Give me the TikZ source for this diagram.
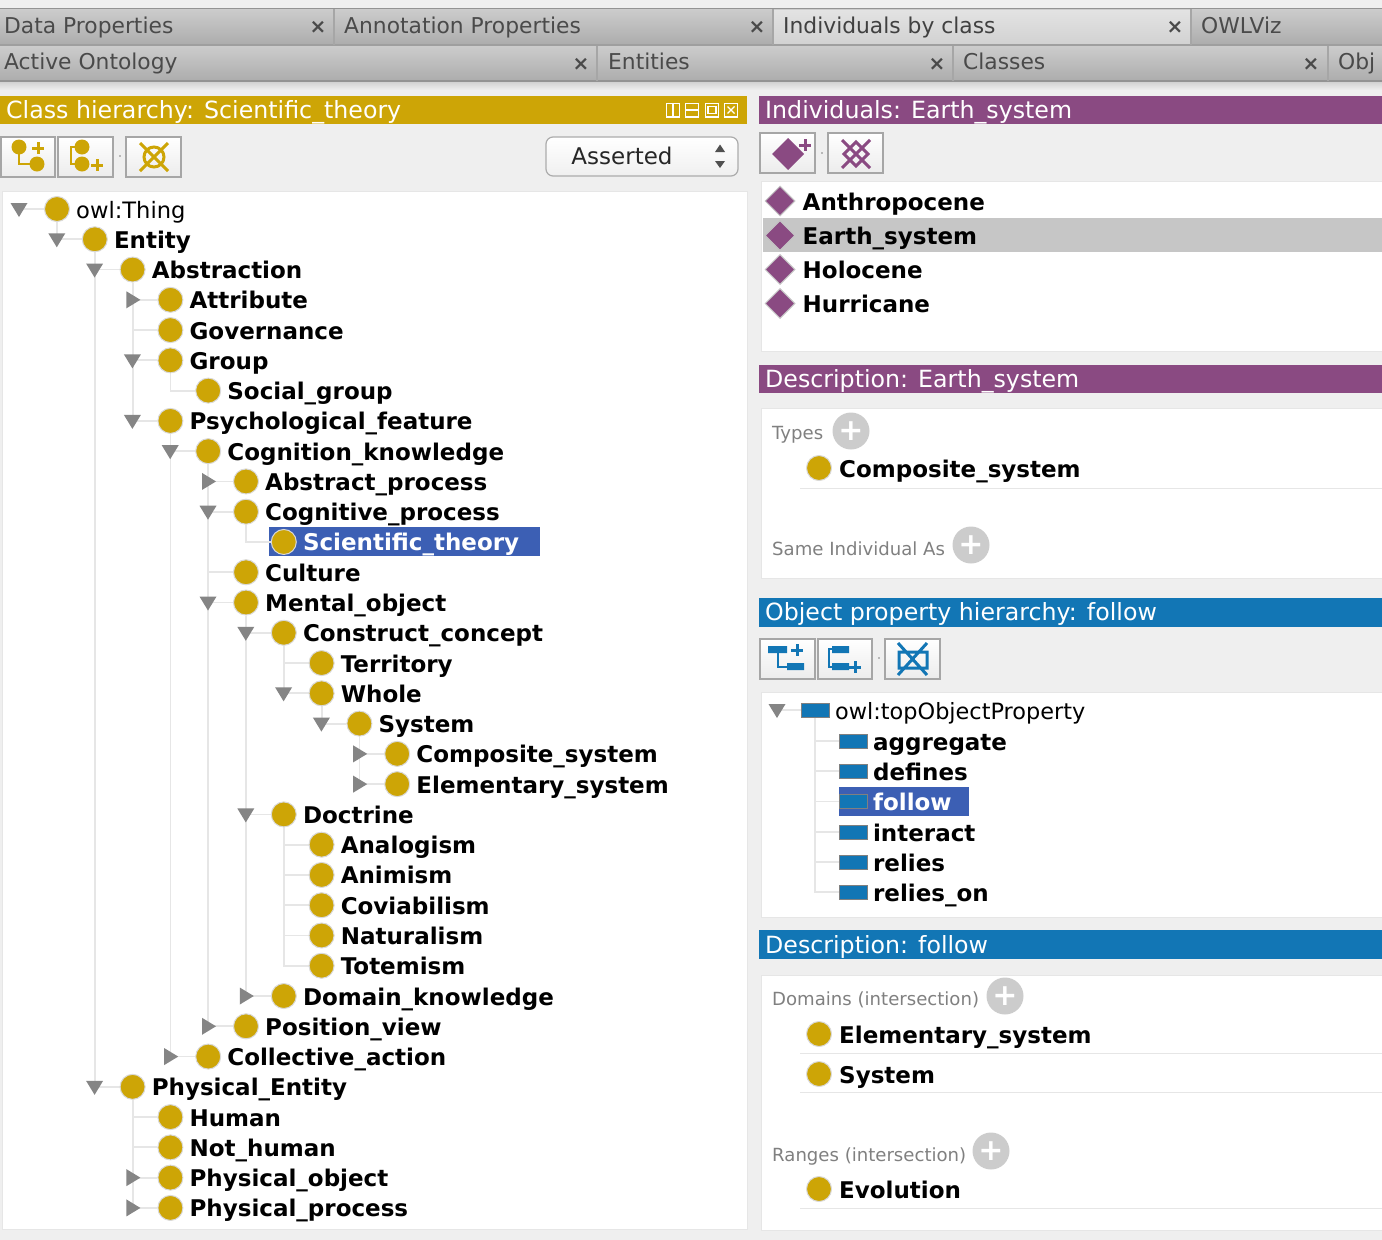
\documentclass[tikz,border=0pt]{standalone}
\usepackage{fontspec}
\setmainfont{DejaVu Sans}
\usetikzlibrary{positioning,backgrounds,shapes.geometric}

\definecolor{classgold}{HTML}{CDA506}
\definecolor{indivpurple}{HTML}{8A4A82}
\definecolor{propblue}{HTML}{1276B5}
\definecolor{selblue}{HTML}{3C5FB4}
\definecolor{windowgray}{HTML}{EFEFEF}
\definecolor{branchgray}{HTML}{E6E6E6}
\definecolor{tipgray}{HTML}{858585}
\definecolor{tabtext}{HTML}{4A4A4A}

\newcommand{\treefont}{\fontsize{23}{27}\selectfont\bfseries}
\newcommand{\regfont}{\fontsize{22.6}{27}\selectfont\mdseries}
\newcommand{\plusmark}[3]{\draw[#3,line width=3pt] (#1-6,#2) -- (#1+6,#2) (#1,#2-6) -- (#1,#2+6);}

\tikzset{
  classicon/.style={circle,fill=classgold,draw=gray!30,line width=1pt,minimum size=25pt,inner sep=0pt},
  indivicon/.style={diamond,fill=indivpurple,draw=gray!45,line width=1pt,minimum size=30pt,inner sep=0pt},
  propicon/.style={rectangle,fill=propblue,draw=gray,line width=.8pt,minimum width=28pt,minimum height=14pt,inner sep=0pt},
  treelabel/.style={font=\treefont,text=black,inner sep=0pt,text height=18pt,text depth=0pt},
  tablabel/.style={anchor=west,font=\fontsize{21.8}{26}\selectfont,text=tabtext,inner sep=0pt,text height=16.5pt,text depth=0pt},
  tabclose/.style={font=\fontsize{20}{22}\selectfont\bfseries,text=tabtext,inner sep=0pt},
  headlabel/.style={anchor=west,font=\fontsize{23.7}{27}\selectfont,text=white,inner sep=0pt,text height=17pt,text depth=0pt},
  sectionlabel/.style={anchor=west,font=\fontsize{18.1}{22}\selectfont,text=gray,inner sep=0pt,text height=14pt,text depth=0pt},
  addbutton/.style={circle,fill=gray!40,minimum size=37pt,inner sep=0pt,text=white,font=\fontsize{30}{30}\selectfont\bfseries},
  branch/.style={draw=branchgray,line width=1.8pt},
  panel/.style={fill=white,draw=branchgray,line width=1pt},
  toolbutton/.style={draw=gray!70,line width=1.2pt,top color=white,bottom color=gray!15},
  tipdown/.pic={\fill[tipgray] (-8.5,-6) -- (8.5,-6) -- (0,8) -- cycle;},
  tipright/.pic={\fill[tipgray] (-6,-8.5) -- (-6,8.5) -- (8,0) -- cycle;},
  tipnone/.pic={}
}

\begin{document}
\begin{tikzpicture}[x=1pt,y=-1pt]
  \useasboundingbox (0,0) rectangle (1382,1240);

  % window and tabs
  \begin{scope}[on background layer]
    \fill[windowgray] (0,0) rectangle (1382,1240);
    \shade[top color=gray!40,bottom color=gray!65] (0,9) rectangle (1382,45);
    \shade[top color=gray!40,bottom color=gray!65] (0,46) rectangle (1382,81);
    \shade[top color=gray!22,bottom color=gray!35] (774,10) rectangle (1190,43);
    \shade[top color=gray!35,bottom color=windowgray] (0,82) rectangle (1382,90);
    \draw[gray!85,line width=1.5pt] (0,8.5) -- (1382,8.5);
    \draw[gray!75,line width=1.2pt] (0,45) -- (1382,45);
    \draw[gray!85,line width=1.5pt] (0,81) -- (1382,81);
    \foreach \xdiv in {334,773,1191}
      \draw[gray!70,line width=1.2pt] (\xdiv,9) -- (\xdiv,45);
    \foreach \xdiv in {597,953,1328}
      \draw[gray!70,line width=1.2pt] (\xdiv,46) -- (\xdiv,81);

    % panels
    \fill[classgold] (0,96) rectangle (747,124);
    \fill[indivpurple] (759,96) rectangle (1382,124);
    \fill[indivpurple] (759,365) rectangle (1382,393);
    \fill[propblue] (759,598) rectangle (1382,627);
    \fill[propblue] (759,930) rectangle (1382,959);
    \path[panel] (2,191) rectangle (747,1229);
    \path[panel] (761,181) rectangle (1390,351);
    \path[panel] (761,408) rectangle (1390,578);
    \path[panel] (761,692) rectangle (1390,917);
    \path[panel] (761,975) rectangle (1390,1230);
    \fill[selblue] (269,527) rectangle (540,556);
    \fill[selblue] (839,787) rectangle (969,816);
    \fill[gray!45] (763,218) rectangle (1382,252);
    \foreach \ysep in {488,1053,1092,1208} \draw[branchgray] (800,\ysep) -- (1382,\ysep);
  \end{scope}

  \node[tablabel] (dataprops) at (4,25.5) {Data Properties};
  \node[tablabel] (annotprops) at (344,25.5) {Annotation Properties};
  \node[tablabel,text=black!75] (indivclass) at (783,25.5) {Individuals by class};
  \node[tablabel] (owlviz) at (1201,25.5) {OWLViz};
  \node[tablabel] (activeont) at (4,61) {Active Ontology};
  \node[tablabel] (entities) at (608,61) {Entities};
  \node[tablabel] (classes) at (963,61) {Classes};
  \node[tablabel] (objtab) at (1338,61) {Obj};
  \foreach \xclose/\yclose in {318/27,757/27,1175/27,581/64,937/64,1311/64}
    \node[tabclose] at (\xclose,\yclose) {×};

  \node[headlabel] (classhead) at (6,110) {Class hierarchy: Scientific\_theory};
  \node[headlabel] (indivhead) at (765,110) {Individuals: Earth\_system};
  \node[headlabel] (desc1head) at (765,379) {Description: Earth\_system};
  \node[headlabel] (prophead) at (765,612) {Object property hierarchy: follow};
  \node[headlabel] (desc2head) at (765,945) {Description: follow};

  % view controls in the class header
  \foreach \xbox in {673,692,712,731}
    \draw[white,line width=1.5pt] (\xbox-6.5,103.5) rectangle (\xbox+6.5,117);
  \draw[white,line width=1.5pt] (673,103.5) -- (673,117) (685.5,110) -- (698.5,110);
  \draw[white,line width=1.5pt] (708,106.5) rectangle (716,113.5);
  \draw[white,line width=1.2pt] (727.5,106.5) -- (734.5,113.5) (727.5,113.5) -- (734.5,106.5);

  % class toolbar
  \foreach \xa/\xb in {1/55,58/113,126/181}
    \path[toolbutton] (\xa,137) rectangle (\xb,177);
  \fill[classgold] (19,147) circle (7.5) (37,164) circle (7.5);
  \draw[classgold,line width=2pt] (19,147) |- (37,164);
  \plusmark{38}{148}{classgold}
  \fill[classgold] (82,147) circle (7.5) (82,164) circle (7.5);
  \draw[classgold,line width=2pt] (82,147) -| (71,164) -- (82,164);
  \plusmark{97}{165}{classgold}
  \draw[classgold,line width=3pt] (154,157) circle (10) (140,143) -- (168,171) (168,143) -- (140,171);
  \fill[gray] (120,156) circle (.8);

  \node[draw=gray!65,line width=1.2pt,rounded corners=7pt,top color=white,bottom color=gray!12,minimum width=192pt,minimum height=39pt,inner sep=0pt] (assertedbox) at (642,156.5) {};
  \node[font=\fontsize{23}{27}\selectfont,text=black!85,inner sep=0pt] (assertedlabel) at (622,156) {Asserted};
  \fill[tipgray!60!black] (720,144.5) -- (725,152) -- (715,152) -- cycle (720,168) -- (725,161) -- (715,161) -- cycle;

  % class tree
  \coordinate (classroot) at (19,209);
  \foreach \name/\lev/\row/\parent/\tip/\label in {
    thing/0/0/classroot/tipdown/\regfont owl:Thing,
    entity/1/1/thing/tipdown/Entity,
    abstraction/2/2/entity/tipdown/Abstraction,
    attribute/3/3/abstraction/tipright/Attribute,
    governance/3/4/abstraction/tipnone/Governance,
    group/3/5/abstraction/tipdown/Group,
    socialgroup/4/6/group/tipnone/Social\_group,
    psychfeature/3/7/abstraction/tipdown/Psychological\_feature,
    cognition/4/8/psychfeature/tipdown/Cognition\_knowledge,
    abstractproc/5/9/cognition/tipright/Abstract\_process,
    cognitiveproc/5/10/cognition/tipdown/Cognitive\_process,
    scitheory/6/11/cognitiveproc/tipnone/\textcolor{white}{Scientific\_theory},
    culture/5/12/cognition/tipnone/Culture,
    mentalobj/5/13/cognition/tipdown/Mental\_object,
    construct/6/14/mentalobj/tipdown/Construct\_concept,
    territory/7/15/construct/tipnone/Territory,
    whole/7/16/construct/tipdown/Whole,
    system/8/17/whole/tipdown/System,
    composite/9/18/system/tipright/Composite\_system,
    elementary/9/19/system/tipright/Elementary\_system,
    doctrine/6/20/mentalobj/tipdown/Doctrine,
    analogism/7/21/doctrine/tipnone/Analogism,
    animism/7/22/doctrine/tipnone/Animism,
    coviabilism/7/23/doctrine/tipnone/Coviabilism,
    naturalism/7/24/doctrine/tipnone/Naturalism,
    totemism/7/25/doctrine/tipnone/Totemism,
    domainknow/6/26/mentalobj/tipright/Domain\_knowledge,
    positionview/5/27/cognition/tipright/Position\_view,
    collective/4/28/psychfeature/tipright/Collective\_action,
    physentity/2/29/entity/tipdown/Physical\_Entity,
    human/3/30/physentity/tipnone/Human,
    nothuman/3/31/physentity/tipnone/Not\_human,
    physobject/3/32/physentity/tipright/Physical\_object,
    physprocess/3/33/physentity/tipright/Physical\_process}
  {
    \pgfmathsetmacro\xpos{57+37.8*\lev}
    \pgfmathsetmacro\ypos{209+30.27*\row}
    \node[classicon] (\name) at (\xpos,\ypos) {};
    \node[treelabel,right=6pt of \name] (\name-label) {\label};
    \begin{scope}[on background layer]
      \draw[branch] (\parent) |- (\name);
    \end{scope}
    \pic at (\xpos-38,\ypos) {\tip};
  }

  % individuals
  \foreach \name/\ypos/\label in {anthropocene/201/Anthropocene,earthsystem/235.5/Earth\_system,holocene/269.5/Holocene,hurricane/303.5/Hurricane}
  {
    \node[indivicon] (\name) at (780,\ypos) {};
    \node[treelabel,right=7pt of \name] (\name-label) {\label};
  }
  \foreach \xa/\xb in {760/815,828/883}
    \path[toolbutton] (\xa,133) rectangle (\xb,173);
  \fill[indivpurple] (788,138) -- (804,154) -- (788,170) -- (772,154) -- cycle;
  \plusmark{805}{145}{indivpurple}
  \draw[indivpurple,line width=3pt] (856,142) -- (868,154) -- (856,166) -- (844,154) -- cycle (842,140) -- (870,168) (870,140) -- (842,168);
  \fill[gray] (822,153) circle (.8);

  % description of the individual
  \node[sectionlabel] (typeslabel) at (772,432.5) {Types};
  \node[addbutton] (typesadd) at (851,431) {+};
  \node[classicon] (compsys) at (819,468) {};
  \node[treelabel,right=7pt of compsys] (compsys-label) {Composite\_system};
  \node[sectionlabel] (samelabel) at (772,548) {Same Individual As};
  \node[addbutton] (sameadd) at (971,545) {+};

  % property toolbar
  \foreach \xa/\xb in {760/815,818/872,885/940}
    \path[toolbutton] (\xa,639) rectangle (\xb,679);
  \draw[propblue,line width=1.6pt] (778,650) |- (787,667);
  \fill[propblue] (768,646) rectangle (787,653) (787,663) rectangle (804,670);
  \plusmark{797}{650}{propblue}
  \draw[propblue,line width=1.6pt] (832,649) -| (829,667) -- (832,667);
  \fill[propblue] (832,646) rectangle (849,653) (832,663) rectangle (849,670);
  \plusmark{855}{667}{propblue}
  \draw[propblue,line width=3pt] (899,652) rectangle (927,668) (898,643) -- (927,675) (927,643) -- (898,675);
  \fill[gray] (879,658) circle (.8);

  % property tree
  \coordinate (proproot) at (777,710);
  \foreach \name/\xpos/\ypos/\parent/\label in {
    topprop/815/710/proproot/{\fontsize{22.4}{27}\selectfont\mdseries owl:topObjectProperty},
    aggregate/853/741/topprop/aggregate,
    defines/853/771/topprop/defines,
    follow/853/801.5/topprop/\textcolor{white}{follow},
    interact/853/832/topprop/interact,
    relies/853/862/topprop/relies,
    relieson/853/892/topprop/relies\_on}
  {
    \node[propicon] (\name) at (\xpos,\ypos) {};
    \node[treelabel,right=5.5pt of \name] (\name-label) {\label};
    \begin{scope}[on background layer]
      \draw[branch] (\parent) |- (\name);
    \end{scope}
  }
  \pic at (777,710) {tipdown};

  % description of the property
  \node[sectionlabel] (domainslabel) at (772,998) {Domains (intersection)};
  \node[addbutton] (domainsadd) at (1005,996) {+};
  \node[classicon] (domelem) at (819,1034) {};
  \node[treelabel,right=7pt of domelem] (domelem-label) {Elementary\_system};
  \node[classicon] (domsys) at (819,1074) {};
  \node[treelabel,right=7pt of domsys] (domsys-label) {System};
  \node[sectionlabel] (rangeslabel) at (772,1154) {Ranges (intersection)};
  \node[addbutton] (rangesadd) at (991,1151) {+};
  \node[classicon] (rangeevol) at (819,1189) {};
  \node[treelabel,right=7pt of rangeevol] (rangeevol-label) {Evolution};
\end{tikzpicture}
\end{document}
